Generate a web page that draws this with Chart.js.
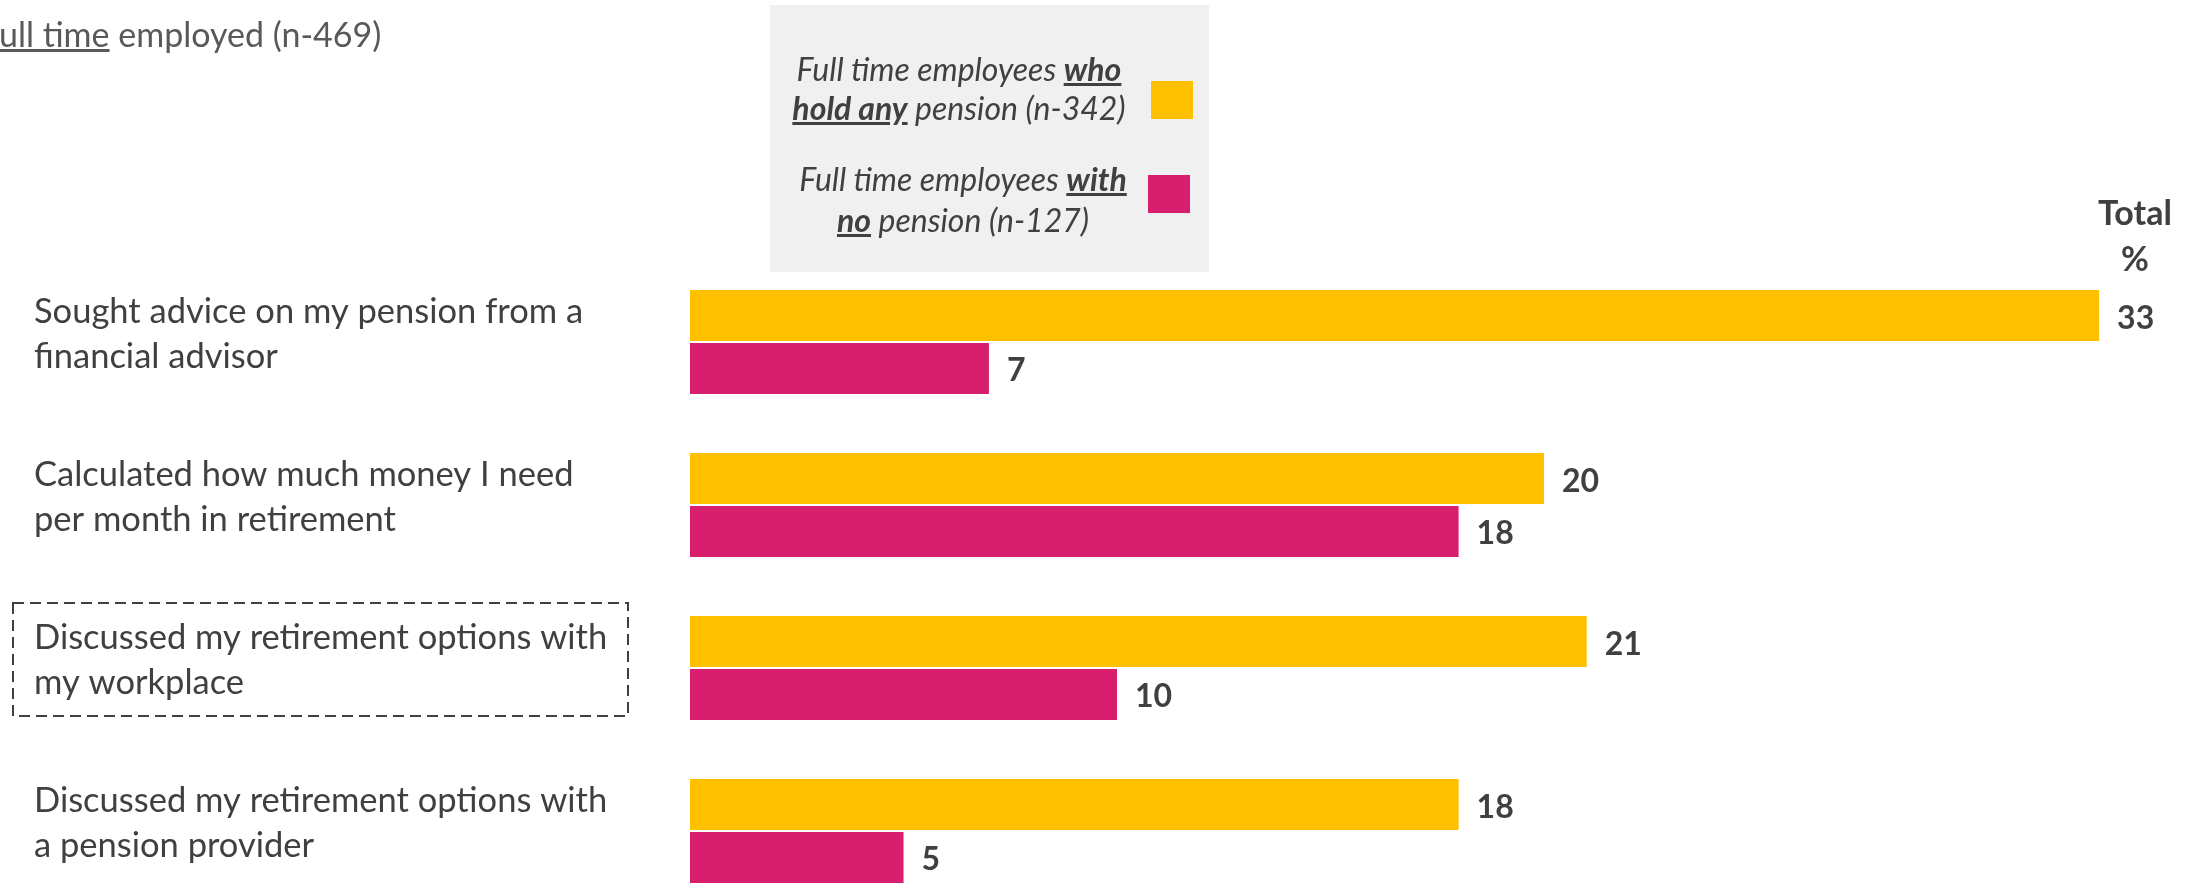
<!DOCTYPE html>
<html>
<head>
<meta charset="utf-8">
<script src="https://cdn.jsdelivr.net/npm/chart.js@4.4.1/dist/chart.umd.min.js"></script>
<style>
  body { margin: 0; width: 2202px; height: 883px; overflow: hidden; background: #fff; font-family: Lato, sans-serif; position: relative; }
  #c { position: absolute; left: 0; top: 0; }
  .sub { position: absolute; left: -19px; top: 17px; font-size: 34px; line-height: 34px; color: #595959; white-space: nowrap; }
  .legendBox { position: absolute; left: 770px; top: 5px; width: 439px; height: 267px; background: #f0f0f0; }
  .legText { position: absolute; width: 380px; text-align: center; font-style: italic; font-size: 32px; line-height: 39px; color: #404040; white-space: nowrap; }
  .legText b { font-weight: 700; text-decoration: underline; }
  .swatch { position: absolute; }
  .total { position: absolute; left: 2085px; top: 189px; width: 100px; text-align: center; font-weight: 700; font-size: 34px; line-height: 46px; color: #404040; }
</style>
</head>
<body>
<canvas id="c" width="2202" height="961"></canvas>
<div class="sub"><u>Full time</u> employed (n-469)</div>
<div class="legendBox" id="legend">
  <div class="legText" style="left:-1px; top:44px;">Full time employees <b>who</b><br><b>hold any</b> pension (n-342)</div>
  <div class="legText" style="left:3px; top:153px; line-height:41px;">Full time employees <b>with</b><br><b>no</b> pension (n-127)</div>
</div>
<div class="total">Total<br>%</div>
<script>
//data
var categories = [
    ['Sought advice on my pension from a', 'financial advisor'],
    ['Calculated how much money I need', 'per month in retirement'],
    ['Discussed my retirement options with', 'my workplace'],
    ['Discussed my retirement options with', 'a pension provider']
];
var withPension = [33, 20, 21, 18];
var noPension = [7, 18, 10, 5];
var seriesNames = ['Full time employees who hold any pension (n-342)', 'Full time employees with no pension (n-127)'];
var highlightIndex = 2;

var yellow = '#FFC000';
var pink = '#D81F6D';
var textColor = '#404040';

// legend swatches
var swatches = [[yellow, 381, 76, 42, 38], [pink, 378, 170, 42, 38]];
swatches.forEach(function (s) {
    var d = document.createElement('div');
    d.className = 'swatch';
    d.style.background = s[0];
    d.style.left = s[1] + 'px';
    d.style.top = s[2] + 'px';
    d.style.width = s[3] + 'px';
    d.style.height = s[4] + 'px';
    document.getElementById('legend').appendChild(d);
});

/*---------------------------plugins------------------------*/

var valueLabels = {
    id: 'valueLabels',
    afterDatasetsDraw: function (chart) {
        var ctx = chart.ctx;
        ctx.save();
        ctx.font = 'bold 32px Lato';
        ctx.fillStyle = textColor;
        ctx.textAlign = 'left';
        ctx.textBaseline = 'alphabetic';
        chart.data.datasets.forEach(function (ds, i) {
            chart.getDatasetMeta(i).data.forEach(function (bar, j) {
                ctx.fillText(ds.data[j], bar.x + 18, bar.y + 13);
            });
        });
        ctx.restore();
    }
};

var dashedBox = {
    id: 'dashedBox',
    afterDraw: function (chart) {
        var ctx = chart.ctx;
        var cy = chart.scales.y.getPixelForValue(highlightIndex) - 9;
        ctx.save();
        ctx.strokeStyle = textColor;
        ctx.lineWidth = 2;
        ctx.setLineDash([11, 6]);
        ctx.strokeRect(13, cy - 56, 615, 113);
        ctx.restore();
    }
};

/*---------------------------chart------------------------*/

var ctx = document.getElementById('c').getContext('2d');

new Chart(ctx, {
    type: 'bar',
    data: {
        labels: categories,
        datasets: [{
            label: seriesNames[0],
            data: withPension,
            backgroundColor: yellow,
            borderWidth: 0
        }, {
            label: seriesNames[1],
            data: noPension,
            backgroundColor: pink,
            borderWidth: 0
        }]
    },
    options: {
        indexAxis: 'y',
        responsive: false,
        animation: false,
        categoryPercentage: 0.65,
        barPercentage: 0.962,
        layout: {
            padding: { left: 34, top: 260.5, right: 17.5, bottom: 48.5 }
        },
        plugins: {
            legend: { display: false },
            tooltip: { enabled: false }
        },
        scales: {
            x: {
                display: false,
                min: 0,
                max: 35
            },
            y: {
                grid: { display: false },
                border: { display: false },
                afterFit: function (scale) { scale.width = 656; },
                ticks: {
                    crossAlign: 'far',
                    labelOffset: -8,
                    color: textColor,
                    font: { family: 'Lato', size: 34.5, lineHeight: 1.3 }
                }
            }
        }
    },
    plugins: [valueLabels, dashedBox]
});
</script>
</body>
</html>
